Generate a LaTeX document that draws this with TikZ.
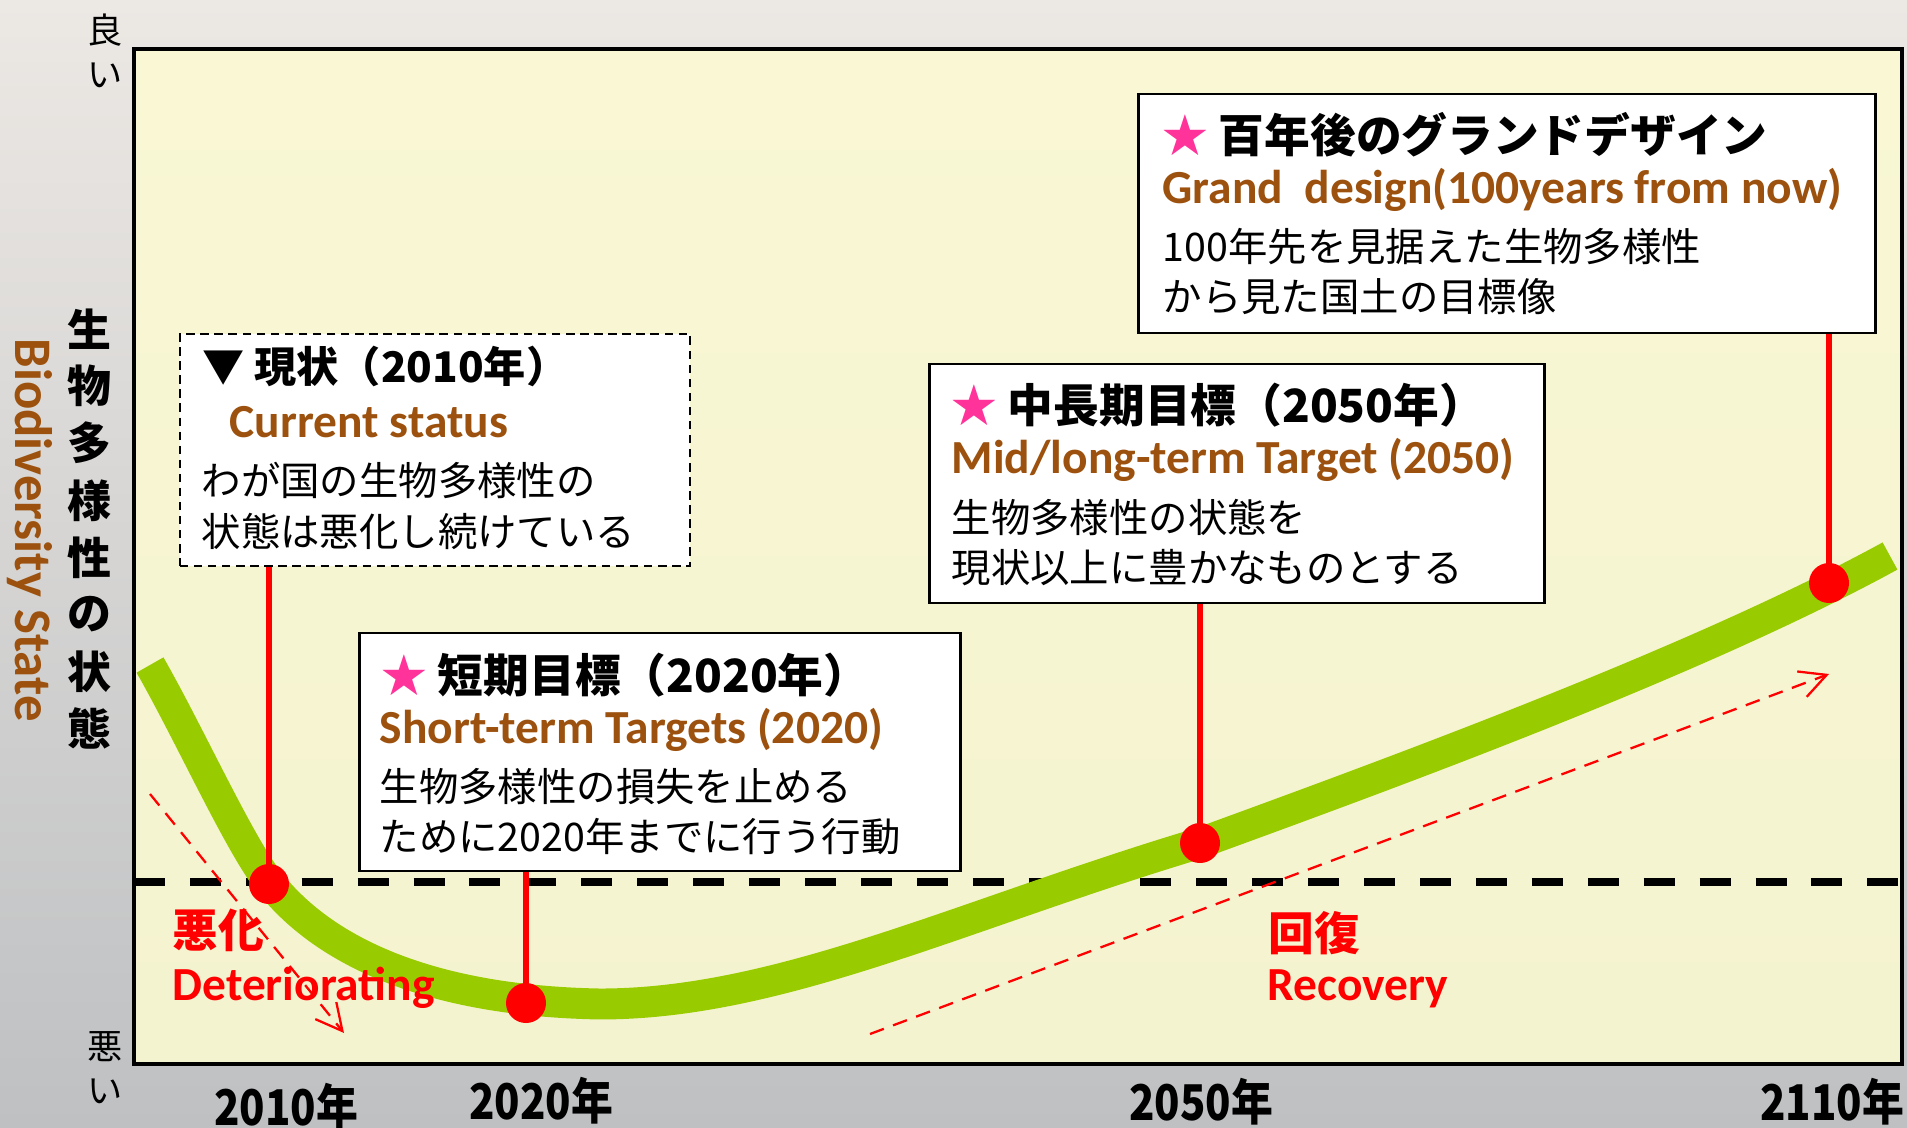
\documentclass[tikz,border=0pt]{standalone}
\usepackage{fontspec}
\setmainfont{Carlito}
\newfontfamily\jp{Noto Sans CJK JP}
\newfontfamily\jpnarrow{Noto Sans CJK JP}[FakeStretch=0.85]
\usepackage{tikz}
\usetikzlibrary{arrows.meta}
\definecolor{bgtop}{RGB}{236,232,228}
\definecolor{bgmid}{RGB}{198,202,207}
\definecolor{bgbot}{RGB}{190,192,194}
\definecolor{plottop}{RGB}{249,247,212}
\definecolor{plotmid}{RGB}{238,237,199}
\definecolor{plotbot}{RGB}{244,243,207}
\definecolor{growgreen}{RGB}{153,204,0}
\definecolor{goalbrown}{RGB}{156,82,14}
\definecolor{starpink}{RGB}{255,51,153}
\definecolor{alertred}{RGB}{255,0,0}
\tikzset{
  frameline/.style={draw=black, line width=1.4pt},
  refline/.style={draw=black, line width=2.4pt, dash pattern=on 8.8pt off 7.1pt},
  growth/.style={draw=growgreen, line width=8.8pt},
  trend/.style={draw=alertred, line width=0.65pt, dash pattern=on 4.2pt off 2.8pt,
                -{Straight Barb[length=7.5pt,width=7.7pt]}},
  stem/.style={draw=alertred, line width=1.8pt},
  milestone/.style={circle, fill=alertred, minimum size=0.4cm, inner sep=0pt},
  goalbox/.style={draw, line width=0.8pt, fill=white, inner sep=0pt},
  nowbox/.style={goalbox, line width=0.6pt, dash pattern=on 2.4pt off 1.6pt},
  ttl/.style={anchor=base west, inner sep=0pt, font=\jp\bfseries\fontsize{13}{15}\selectfont},
  entxt/.style={anchor=base west, inner sep=0pt, text=goalbrown, font=\bfseries\fontsize{13.5}{15}\selectfont},
  body/.style={anchor=base west, inner sep=0pt, font=\jp\fontsize{11.2}{13}\selectfont},
  trendlbl/.style={anchor=base west, inner sep=0pt, text=alertred, font=\jp\bfseries\fontsize{13}{15}\selectfont},
  trenden/.style={trendlbl, font=\bfseries\fontsize{13.5}{15}\selectfont},
  yearlbl/.style={anchor=base, inner sep=0pt, font=\jpnarrow\bfseries\fontsize{14}{16}\selectfont},
  vlbl/.style={inner sep=0pt, font=\jp\bfseries\fontsize{12.5}{14}\selectfont},
  endlbl/.style={inner sep=0pt, align=center, font=\jp\fontsize{10}{12.5}\selectfont},
}
\begin{document}
\begin{tikzpicture}[x=0.01cm, y=-0.01cm]
  \useasboundingbox (0,0) rectangle (1907,1128);
  \fill[top color=bgtop, middle color=bgmid, bottom color=bgbot] (0,0) rectangle (1907,1128);
  \fill[top color=plottop, middle color=plotmid, bottom color=plotbot] (134,49) rectangle (1902,1064);

  % axis side labels
  \node[endlbl] (good) at (105,51) {良\\い};
  \node[endlbl] (bad) at (105,1068) {悪\\い};
  \foreach \c [count=\i from 0] in {生,物,多,様,性,の,状,態}
    \node[vlbl] (v\i) at (89,{329+57.1*\i}) {\c};
  \node[rotate=-90, inner sep=0pt, text=goalbrown, font=\bfseries\fontsize{15}{17}\selectfont] (bstate) at (30,530) {Biodiversity State};

  % reference level and trends
  \coordinate (refL) at (134,882);
  \coordinate (refR) at (1902,882);
  \draw[refline] (refL) -- (refR);
  \coordinate (detA) at (150,794);
  \coordinate (detB) at (344,1033);
  \coordinate (recA) at (870,1034);
  \coordinate (recB) at (1829,674);
  \draw[trend] (detA) -- (detB);
  \draw[trend] (recA) -- (recB);
  \draw[growth] (150,665) .. controls (190,735) and (240,846) .. (270,883)
    .. controls (300,920) and (380,1000) .. (600,1004)
    .. controls (780,1004) and (960,915) .. (1200,843)
    .. controls (1400,770) and (1700,660) .. (1890,556);
  \draw[frameline] (134,49) rectangle (1902,1064);

  % boxes
  \node[nowbox, minimum width=5.1cm, minimum height=2.32cm] (now) at (435,450) {};
  \node[goalbox, minimum width=6.0cm, minimum height=2.38cm] (short) at (660,752) {};
  \node[goalbox, minimum width=6.14cm, minimum height=2.39cm] (mid) at (1237,483.5) {};
  \node[goalbox, minimum width=7.36cm, minimum height=2.39cm] (grand) at (1507,213.5) {};

  \node[ttl, font=\jp\bfseries\fontsize{12}{14}\selectfont] (nowT) at (202,383) {▼ 現状（2010年）};
  \node[entxt] (nowE) at (229,438) {Current status};
  \node[body] (nowJ1) at (201,495) {わが国の生物多様性の};
  \node[body] (nowJ2) at (201,546) {状態は悪化し続けている};

  \node[ttl] (shortT) at (381,692) {\textcolor{starpink}{★} 短期目標（2020年）};
  \node[entxt] (shortE) at (379,743) {Short-term Targets (2020)};
  \node[body] (shortJ1) at (379,801) {生物多様性の損失を止める};
  \node[body] (shortJ2) at (379,851) {ために2020年までに行う行動};

  \node[ttl] (midT) at (951,423) {\textcolor{starpink}{★} 中長期目標（2050年）};
  \node[entxt] (midE) at (951,474) {Mid/long-term Target (2050)};
  \node[body] (midJ1) at (951,532) {生物多様性の状態を};
  \node[body] (midJ2) at (951,582) {現状以上に豊かなものとする};

  \node[ttl] (grandT) at (1162,153) {\textcolor{starpink}{★} 百年後のグランドデザイン};
  \node[entxt] (grandE) at (1162,204) {Grand~~design(100years from now)};
  \node[body] (grandJ1) at (1162,262) {100年先を見据えた生物多様性};
  \node[body] (grandJ2) at (1162,312) {から見た国土の目標像};

  % milestones
  \node[milestone] (m2010) at (269,884) {};
  \node[milestone] (m2020) at (526,1003) {};
  \node[milestone] (m2050) at (1200,843) {};
  \node[milestone] (m2110) at (1829,583) {};
  \draw[stem] (now.south -| m2010) -- (m2010.center);
  \draw[stem] (short.south -| m2020) -- (m2020.center);
  \draw[stem] (mid.south -| m2050) -- (m2050.center);
  \draw[stem] (grand.south -| m2110) -- (m2110.center);

  \node[trendlbl] (detJ) at (172,947) {悪化};
  \node[trenden] (detE) at (172,1000) {Deteriorating};
  \node[trendlbl] (recJ) at (1268,950) {回復};
  \node[trenden] (recE) at (1267,1000) {Recovery};

  \node[yearlbl] (y2010) at (286,1125) {2010年};
  \node[yearlbl] (y2020) at (541,1119) {2020年};
  \node[yearlbl] (y2050) at (1201,1120) {2050年};
  \node[yearlbl] (y2110) at (1832,1120) {2110年};
\end{tikzpicture}
\end{document}
